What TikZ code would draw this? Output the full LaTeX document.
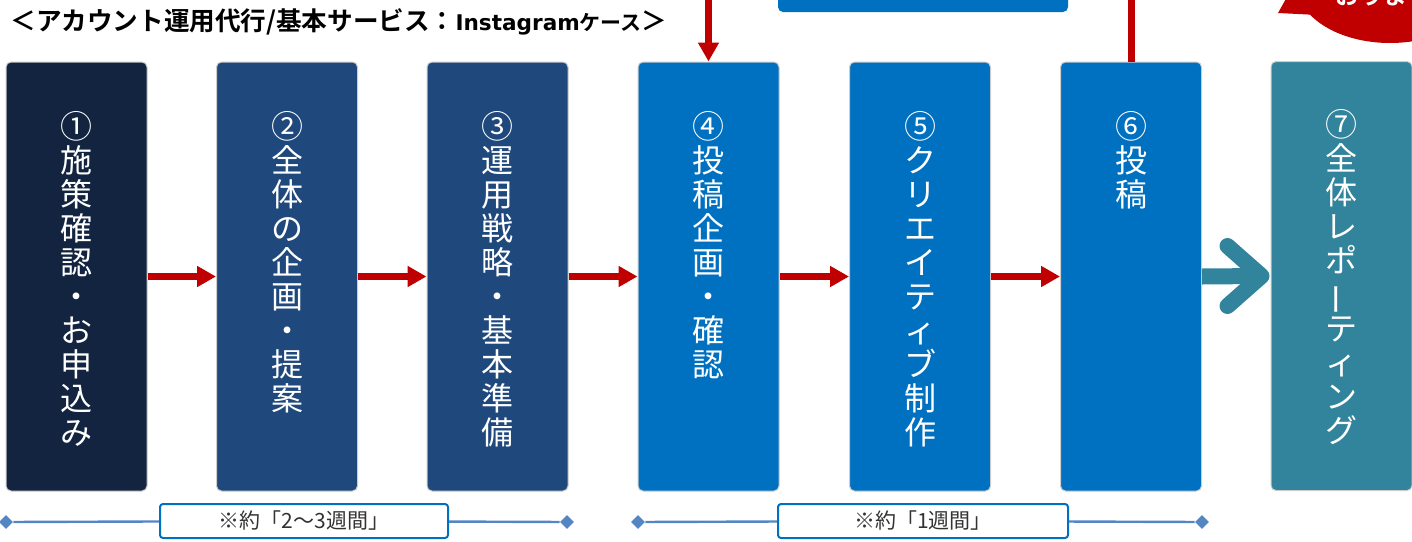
\documentclass[tikz,border=0pt]{standalone}
\usepackage{fontspec}
\newfontfamily\jpfont{Noto Sans CJK JP}[BoldFont={* Bold}]
\newfontfamily\latinfont{DejaVu Sans}
\usetikzlibrary{arrows.meta, positioning, shapes.geometric}
\definecolor{navy}{HTML}{12243F}
\definecolor{midblue}{HTML}{1F487C}
\definecolor{brightblue}{HTML}{0070C0}
\definecolor{tealbox}{HTML}{31849B}
\definecolor{darkred}{HTML}{C00000}
\definecolor{tlblue}{HTML}{5586C4}
\definecolor{labelgray}{HTML}{333333}
\newcommand{\vbar}{\rotatebox[origin=c]{90}{ー}}

\begin{document}
\begin{tikzpicture}[x=0.5pt, y=-0.5pt,
  stepbox/.style={rectangle, rounded corners=2.5pt, minimum width=70.5pt, minimum height=214.5pt, draw=gray!40, line width=0.5pt, inner sep=0pt},
  steptext/.style={text=white, align=center, inner sep=0pt, font=\jpfont\fontsize{16}{17}\selectfont},
  redarrow/.style={darkred, line width=3.5pt, arrows={-Triangle[length=9.5pt, width=10pt]}},
  redline/.style={darkred, line width=3.5pt},
  tealarrow/.style={tealbox, line width=8pt},
  tlend/.style={diamond, fill=tlblue, minimum width=7pt, minimum height=7pt, inner sep=0pt},
  tllabel/.style={rectangle, draw=brightblue, line width=1pt, fill=white, rounded corners=1.5pt, minimum height=17pt, inner sep=0pt, text=labelgray, font=\jpfont\fontsize{10.5}{12}\selectfont}
]
\clip (0,0) rectangle (1412,541);
\useasboundingbox (0,0) rectangle (1412,541);

\node[anchor=west, inner sep=0pt, font=\jpfont\bfseries] (title) at (10,22) {{\fontsize{12.8}{13}\selectfont ＜アカウント運用代行/基本サービス：}{\latinfont\bfseries\fontsize{10.8}{13}\selectfont Instagram}{\fontsize{10.5}{13}\selectfont ケース}{\fontsize{12.8}{13}\selectfont ＞}};

\fill[brightblue, rounded corners=2.5pt] (778,-20) rectangle (1068,12);
\fill[darkred] (1390,-15) ellipse (93 and 58);
\fill[darkred] (1292,-12) -- (1278,13) -- (1318,15) -- (1330,-5) -- cycle;
\node[anchor=base west, inner sep=0pt, text=white, font=\jpfont\bfseries\fontsize{12}{12}\selectfont] (bubble) at (1335,4.5) {おります};

\node[stepbox, fill=navy] (b1) at (76.5,276.5) {};
\node[stepbox, fill=midblue] (b2) at (287,276.5) {};
\node[stepbox, fill=midblue] (b3) at (497.5,276.5) {};
\node[stepbox, fill=brightblue] (b4) at (708.5,276.5) {};
\node[stepbox, fill=brightblue] (b5) at (920,276.5) {};
\node[stepbox, fill=brightblue] (b6) at (1131,276.5) {};
\node[stepbox, fill=tealbox] (b7) at (1341.5,276) {};

\node[steptext, below=25pt of b1.north] (t1) {①\\施\\策\\確\\認\\・\\お\\申\\込\\み};
\node[steptext, below=25pt of b2.north] (t2) {②\\全\\体\\の\\企\\画\\・\\提\\案};
\node[steptext, below=25pt of b3.north] (t3) {③\\運\\用\\戦\\略\\・\\基\\本\\準\\備};
\node[steptext, below=25pt of b4.north] (t4) {④\\投\\稿\\企\\画\\・\\確\\認};
\node[steptext, below=25pt of b5.north] (t5) {⑤\\ク\\リ\\エ\\イ\\テ\\ィ\\ブ\\制\\作};
\node[steptext, below=25pt of b6.north] (t6) {⑥\\投\\稿};
\node[steptext, below=24pt of b7.north] (t7) {⑦\\全\\体\\レ\\ポ\\\vbar\\テ\\ィ\\ン\\グ};

\draw[redarrow] (b1.east) -- (b2.west);
\draw[redarrow] (b2.east) -- (b3.west);
\draw[redarrow] (b3.east) -- (b4.west);
\draw[redarrow] (b4.east) -- (b5.west);
\draw[redarrow] (b5.east) -- (b6.west);

\coordinate (in4) at (708.5,-10);
\coordinate (out6) at (1131,-10);
\draw[redarrow] (in4) -- (b4.north);
\draw[redline] (b6.north) -- (out6);

\coordinate (tip) at ([xshift=-4.5pt]b7.west);
\draw[tealarrow] (b6.east) -- (tip);
\draw[tealarrow, line cap=round, line join=round] ([shift={(-17pt,15pt)}]tip) -- (tip) -- ([shift={(-17pt,-15pt)}]tip);

\node[tlend] (s1) at (6,522) {};
\node[tlend] (e1) at (567,522) {};
\node[tllabel, minimum width=144pt] (w1) at (304,521) {※約「2～3週間」};
\draw[tlblue, line width=1.2pt] (s1) -- (w1) -- (e1);

\node[tlend] (s2) at (638,522) {};
\node[tlend] (e2) at (1202,522) {};
\node[tllabel, minimum width=145pt] (w2) at (923,521) {※約「1週間」};
\draw[tlblue, line width=1.2pt] (s2) -- (w2) -- (e2);
\end{tikzpicture}
\end{document}
